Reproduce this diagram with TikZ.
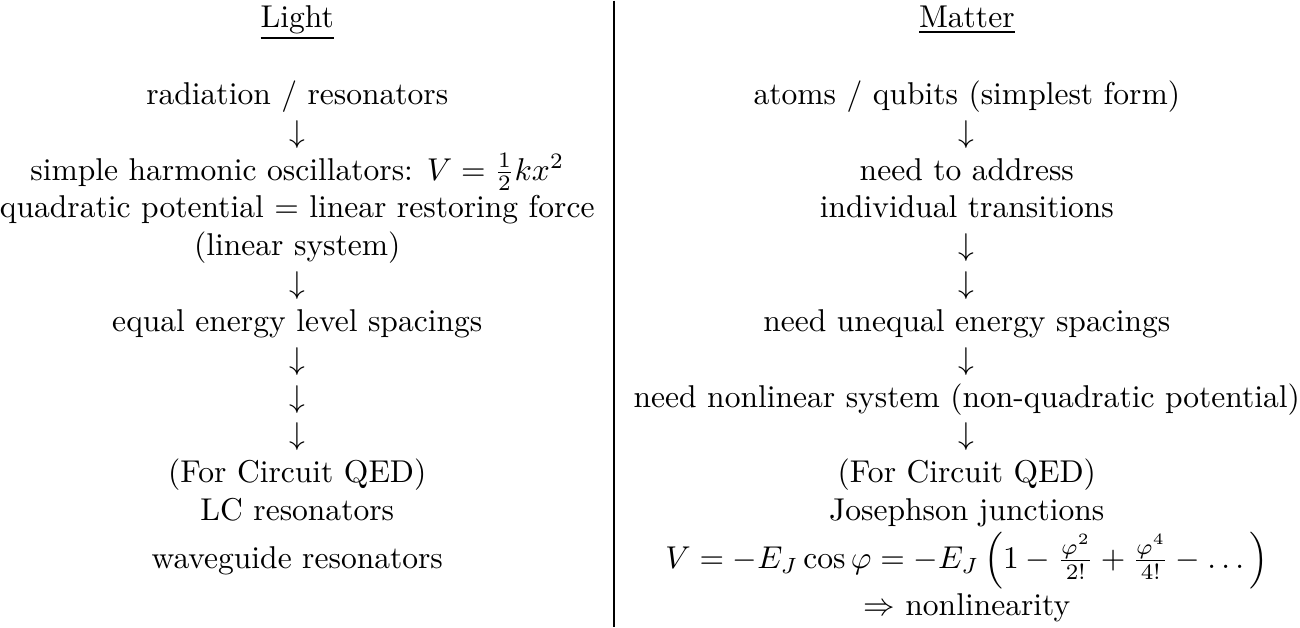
\documentclass[tikz,border=0pt]{standalone}
\usepackage{amsmath}
\usetikzlibrary{
  matrix,
  calc
}
\tikzset{
  cell/.style={inner sep=0pt, outer sep=0pt, anchor=base, font=\strut},
  divider/.style={line width=0.4pt, black}
}

\begin{document}
\begin{tikzpicture}
  \matrix (m) [matrix of nodes, nodes={cell}, column sep=12.4pt, row sep=0pt, inner sep=0pt, outer sep=0pt] {
    \underline{Light} & \underline{Matter} \\[12pt]
    radiation / resonators & atoms / qubits (simplest form) \\
    $\downarrow$ & $\downarrow$ \\
    simple harmonic oscillators: $V = \frac{1}{2}kx^2$ & need to address \\
    quadratic potential $=$ linear restoring force & individual transitions \\
    (linear system) & $\downarrow$ \\
    $\downarrow$ & $\downarrow$ \\
    equal energy level spacings & need unequal energy spacings \\
    $\downarrow$ & $\downarrow$ \\
    $\downarrow$ & need nonlinear system (non-quadratic potential) \\
    $\downarrow$ & $\downarrow$ \\
    (For Circuit QED) & (For Circuit QED) \\
    LC resonators & Josephson junctions \\
    waveguide resonators & $V = -E_J \cos\varphi = -E_J \left(1 - \frac{\varphi^2}{2!} + \frac{\varphi^4}{4!} - \dots\right)$ \\
    & $\Rightarrow$ nonlinearity \\
  };
  % column rule between Light and Matter
  \coordinate (sep) at ($(m-5-1.east)!.5!(m-10-2.west)$);
  \draw[divider] (sep |- m.north) -- (sep |- m.south);
\end{tikzpicture}
\end{document}
